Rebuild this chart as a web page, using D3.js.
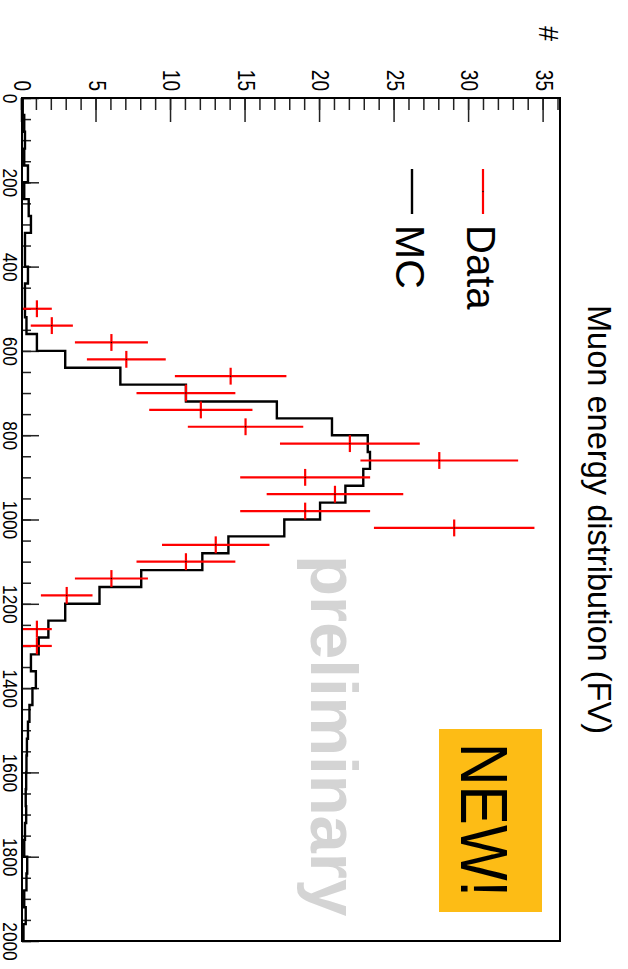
<!DOCTYPE html>
<html>
<head>
<meta charset="utf-8">
<script src="https://cdn.jsdelivr.net/npm/d3@7"></script>
<style>
  html, body { margin: 0; padding: 0; background: #fff; }
  svg { display: block; }
  text { font-family: "Liberation Sans", Arial, Helvetica, sans-serif; }
</style>
</head>
<body>
<script>
// Histogram binning (energy axis)
const binWidth = 40;
const energyRange = [0, 2000];
const countMax = 36.1;

// Simulated (MC) expectation per 40-unit energy bin, 0..2000
const mcCounts = [
  0.05, 0.15, 0.2, 0.15, 0.4, 0.15, 0.45, 0.6, 0.2, 0.2,
  0.4, 0.2, 0.2, 0.3, 1.0, 2.9, 6.6, 11.0, 17.1, 20.8,
  23.2, 23.35, 22.9, 21.7, 20.0, 17.6, 13.85, 12.1, 8.0, 5.2,
  2.9, 1.77, 1.12, 0.6, 0.93, 0.7, 0.5, 0.4, 0.33, 0.3,
  0.28, 0.25, 0.28, 0.2, 0.15, 0.35, 0.3, 0.15, 0.25, 0.1
];

// Observed events per 40-unit energy bin, 0..2000
const dataCounts = [
  0, 0, 0, 0, 0, 0, 0, 0, 0, 0,
  0, 0, 1, 2, 6, 7, 14, 11, 12, 15,
  22, 28, 19, 21, 19, 29, 13, 11, 6, 3,
  0, 1, 1, 0, 0, 0, 0, 0, 0, 0,
  0, 0, 0, 0, 0, 0, 0, 0, 0, 0
];

// Axis ticks
const countTicks = [0, 5, 10, 15, 20, 25, 30, 35];
const countMinorTicks = d3.range(0, 37, 1);
const energyTicks = [0, 200, 400, 600, 800, 1000, 1200, 1400, 1600, 1800, 2000];
const energyMinorTicks = d3.range(0, 2001, 50);

// Texts
const titleText = "Muon energy distribution (FV)";
const countAxisTitle = "#";
const legendLabels = ["Data", "MC"];
const watermarkText = "preliminary";
const badgeText = "NEW!";

// The plot is built as an ordinary histogram and turned a quarter turn clockwise.
const W = 843, H = 538;
const svg = d3.select("body").append("svg")
  .attr("width", 628).attr("height", 969);

const g = svg.append("g")
  .attr("transform", "translate(560,98) rotate(90)");

const x = d3.scaleLinear().domain(energyRange).range([0, W]);
const y = d3.scaleLinear().domain([0, countMax]).range([H, 0]);

const binLo = i => energyRange[0] + i * binWidth;
const plain = d3.format("d");

// watermark
g.append("text")
  .attr("x", 457).attr("y", 249)
  .attr("font-size", 67).attr("font-weight", "bold")
  .attr("fill", "#d4d4d4")
  .text(watermarkText);

// badge
g.append("rect")
  .attr("x", 631).attr("y", 18).attr("width", 183).attr("height", 103)
  .attr("fill", "#fdbc15");
g.append("text")
  .attr("x", 645).attr("y", 99)
  .attr("font-size", 67).attr("fill", "#000")
  .attr("textLength", 154).attr("lengthAdjust", "spacingAndGlyphs")
  .text(badgeText);

// minor ticks
const countMinor = d3.axisLeft(y).tickValues(countMinorTicks)
  .tickSizeInner(-12).tickSizeOuter(0).tickFormat("");
g.append("g").call(countMinor)
  .call(s => s.select(".domain").remove())
  .call(s => s.selectAll("line").attr("stroke", "#222").attr("stroke-width", 1.5));

const energyMinor = d3.axisBottom(x).tickValues(energyMinorTicks)
  .tickSizeInner(-9).tickSizeOuter(0).tickFormat("");
g.append("g").attr("transform", `translate(0,${H})`).call(energyMinor)
  .call(s => s.select(".domain").remove())
  .call(s => s.selectAll("line").attr("stroke", "#222").attr("stroke-width", 1.5));

// major ticks with labels
const countAxis = d3.axisLeft(y).tickValues(countTicks).tickFormat(plain)
  .tickSizeInner(-24).tickSizeOuter(0).tickPadding(7);
g.append("g").call(countAxis)
  .call(s => s.select(".domain").remove())
  .call(s => s.selectAll("line").attr("stroke", "#222").attr("stroke-width", 1.5))
  .call(s => s.selectAll("text")
    .attr("font-size", 23).attr("fill", "#000")
    .attr("font-family", "Liberation Sans, Arial, sans-serif")
    .attr("textLength", d => plain(d).length * 10.6)
    .attr("lengthAdjust", "spacingAndGlyphs"));

const energyAxis = d3.axisBottom(x).tickValues(energyTicks).tickFormat(plain)
  .tickSizeInner(-17).tickSizeOuter(0).tickPadding(4);
g.append("g").attr("transform", `translate(0,${H})`).call(energyAxis)
  .call(s => s.select(".domain").remove())
  .call(s => s.selectAll("line").attr("stroke", "#222").attr("stroke-width", 1.5))
  .call(s => s.selectAll("text")
    .attr("font-size", 21).attr("fill", "#000")
    .attr("font-family", "Liberation Sans, Arial, sans-serif")
    .attr("textLength", d => plain(d).length * 9.6)
    .attr("lengthAdjust", "spacingAndGlyphs"));

// MC outline histogram
const mcPoints = mcCounts.map((c, i) => [binLo(i), c]);
mcPoints.push([energyRange[1], mcCounts[mcCounts.length - 1]]);
const stepLine = d3.line()
  .x(d => x(d[0])).y(d => y(d[1]))
  .curve(d3.curveStepAfter);
g.append("path")
  .attr("d", stepLine(mcPoints))
  .attr("fill", "none").attr("stroke", "#000")
  .attr("stroke-width", 2.4).attr("stroke-linejoin", "miter");

// data points with statistical errors
const pts = dataCounts
  .map((c, i) => ({ e: binLo(i) + binWidth / 2, c }))
  .filter(d => d.c > 0);
const dg = g.append("g");
dg.selectAll("line.ey").data(pts).join("line")
  .attr("class", "ey")
  .attr("x1", d => x(d.e)).attr("x2", d => x(d.e))
  .attr("y1", d => y(d.c - Math.sqrt(d.c))).attr("y2", d => y(d.c + Math.sqrt(d.c)))
  .attr("stroke", "#ff0000").attr("stroke-width", 2.2);
dg.selectAll("line.ex").data(pts).join("line")
  .attr("class", "ex")
  .attr("x1", d => x(d.e - binWidth / 2)).attr("x2", d => x(d.e + binWidth / 2))
  .attr("y1", d => y(d.c)).attr("y2", d => y(d.c))
  .attr("stroke", "#ff0000").attr("stroke-width", 2.2);
dg.selectAll("circle").data(pts).join("circle")
  .attr("cx", d => x(d.e)).attr("cy", d => y(d.c)).attr("r", 0.7)
  .attr("fill", "#000");

// frame
g.append("rect")
  .attr("x", 0).attr("y", 0).attr("width", W).attr("height", H)
  .attr("fill", "none").attr("stroke", "#000").attr("stroke-width", 2);

// legend
const legend = g.append("g");
legend.append("line")
  .attr("x1", 71).attr("x2", 116).attr("y1", 77).attr("y2", 77)
  .attr("stroke", "#ff0000").attr("stroke-width", 2.2);
legend.append("circle").attr("cx", 93.5).attr("cy", 77).attr("r", 0.7).attr("fill", "#000");
legend.append("text").attr("x", 127).attr("y", 93)
  .attr("font-size", 40).attr("fill", "#000").text(legendLabels[0]);
legend.append("line")
  .attr("x1", 71).attr("x2", 116).attr("y1", 148).attr("y2", 148)
  .attr("stroke", "#000").attr("stroke-width", 2.4);
legend.append("text").attr("x", 127).attr("y", 164)
  .attr("font-size", 41).attr("fill", "#000").text(legendLabels[1]);

// titles
g.append("text")
  .attr("x", W / 2).attr("y", -28)
  .attr("text-anchor", "middle")
  .attr("font-size", 32.6).attr("fill", "#000")
  .text(titleText);
g.append("text")
  .attr("x", -57).attr("y", 12).attr("dy", "0.35em")
  .attr("text-anchor", "end")
  .attr("font-size", 27).attr("fill", "#000")
  .text(countAxisTitle);
</script>
</body>
</html>
